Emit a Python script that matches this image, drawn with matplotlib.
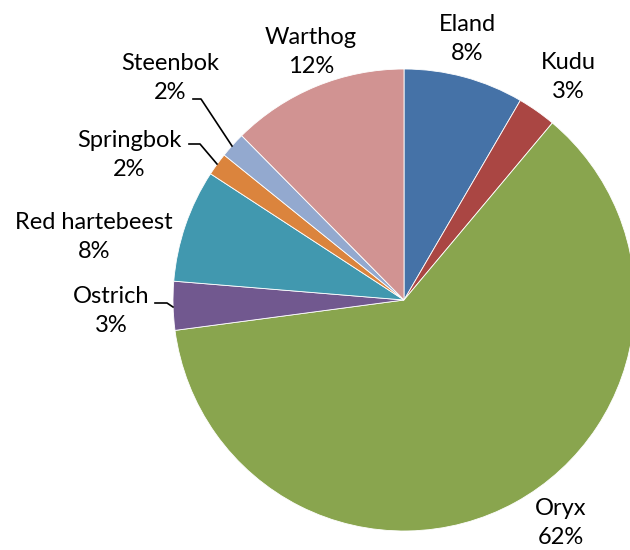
import matplotlib.pyplot as plt

# data (share of animals, %)
species = ["Eland", "Kudu", "Oryx", "Ostrich", "Red hartebeest",
           "Springbok", "Steenbok", "Warthog"]
shares = [8.4, 2.7, 61.8, 3.4, 7.9, 1.6, 1.8, 12.4]

colors = ["#4572A7", "#AA4643", "#89A54E", "#71588F", "#4198AF",
          "#DB843D", "#93A9CF", "#D19392"]

# label block centres in pixel coordinates (x, y from top)
label_pos = [(467, 39), (568, 77), (561, 523), (111, 311), (94, 237),
             (129, 155), (170, 78), (311, 52)]

# leader lines (pixel coords) for the small slices
leaders = {
    "Ostrich":   [(155, 303), (167, 303), (173, 307)],
    "Springbok": [(189, 144), (200, 144), (217, 164)],
    "Steenbok":  [(193, 99), (201, 99), (232, 146)],
}

W, H = 630, 550
fig = plt.figure(figsize=(6.3, 5.5), dpi=100)
ax = fig.add_axes([0, 0, 1, 1])

ax.pie(shares, colors=colors, startangle=90, counterclock=False,
       center=(404, H - 300), radius=231, frame=True,
       wedgeprops=dict(edgecolor="white", linewidth=0.6))
ax.set_xlim(0, W)
ax.set_ylim(0, H)
ax.set_aspect("equal")
ax.axis("off")

total = sum(shares)
for name, val, (px, py) in zip(species, shares, label_pos):
    ax.text(px, H - py, f"{name}\n{round(val / total * 100):.0f}%",
            ha="center", va="center", fontsize=17, family="Lato",
            linespacing=1.5, color="black")

for name, pts in leaders.items():
    ax.plot([p[0] for p in pts], [H - p[1] for p in pts],
            color="black", linewidth=1.2)

plt.savefig("out.png", dpi=100)
